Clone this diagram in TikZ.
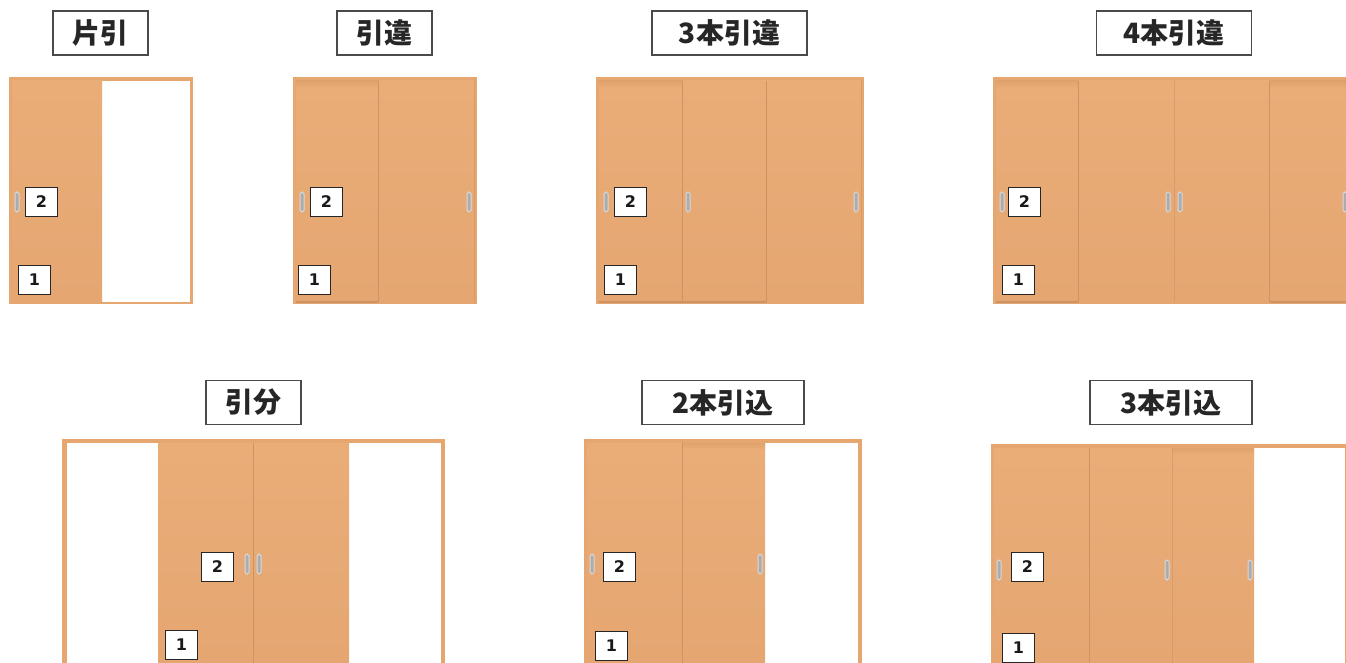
\documentclass[tikz,border=0pt]{standalone}
\usepackage{fontspec}
\newfontfamily\cjk{Noto Sans CJK JP}
\newfontfamily\digitfont{DejaVu Sans}
\definecolor{woodlight}{HTML}{EAAD78}
\definecolor{wooddark}{HTML}{E5A672}
\definecolor{woodshadow}{HTML}{DFA26D}
\definecolor{woodline}{HTML}{CC9464}
\definecolor{framewood}{HTML}{E6A670}
\definecolor{titleline}{HTML}{4A4A4A}
\tikzset{
  frame/.style = {fill = framewood, draw = none},
  opening/.style = {fill = white, draw = none},
  panel/.style = {top color = woodlight, bottom color = wooddark, draw = none},
  seam/.style = {woodline, line width = 1pt},
  sill/.style = {woodline, line width = 1.4pt},
  topshade/.style = {top color = woodshadow, bottom color = woodlight, draw = none},
  grip/.style = {fill = gray!65, draw = gray!30, line width = 1pt, rounded corners = 1.8pt},
  titlebox/.style = {draw = titleline, line width = 1.2pt, fill = white, minimum height = 44pt, inner sep = 0pt, text = black!85, font = \cjk\bfseries\fontsize{28}{28}\selectfont},
  numbox/.style = {draw = black!85, line width = 1.3pt, fill = white, minimum width = 32pt, minimum height = 29pt, inner sep = 0pt, text = black!90, font = \digitfont\bfseries\fontsize{16}{16}\selectfont}
}
\begin{document}
\begin{tikzpicture} [x = 1pt, y = -1pt]
\useasboundingbox (0,0) rectangle (1346,663);
% top row
\node [titlebox, minimum width = 95pt] (titleKata) at (100.5,33) {片引};
\node [titlebox, minimum width = 95pt] (titleHiki) at (384.5,33) {引違};
\node [titlebox, minimum width = 155pt] (titleSan) at (729.5,33) {3本引違};
\node [titlebox, minimum width = 155pt] (titleYon) at (1174,33) {4本引違};
% kata
\fill [frame] (9,77) rectangle (193,304);
\fill [opening] (102,81) rectangle (190,302);
\shade [panel] (12,81) rectangle (102,302);
% hikichigai
\fill [frame] (293,77) rectangle (477,304);
\shade [panel] (296,81) rectangle (474,301);
\shade [topshade] (296,81) rectangle (378,88);
\draw [sill] (296,302) -- (378,302);
\draw [seam] (378,81) -- (378,302);
\draw [seam, opacity = 0.5] (474,81) -- (474,302);
% 3 doors
\fill [frame] (596,77) rectangle (864,304);
\shade [panel] (599,81) rectangle (861,301);
\shade [topshade] (599,81) rectangle (682,88);
\draw [sill] (599,302) -- (766,302);
\draw [seam] (682,81) -- (682,302);
\draw [seam] (766,81) -- (766,302);
\draw [seam, opacity = 0.5] (861,81) -- (861,302);
% 4 doors
\fill [frame] (993,77) rectangle (1346,304);
\shade [panel] (996,81) rectangle (1346,301);
\shade [topshade] (996,81) rectangle (1078,88);
\shade [topshade] (1270,81) rectangle (1346,88);
\draw [sill] (996,302) -- (1078,302);
\draw [sill] (1270,302) -- (1346,302);
\draw [seam] (1078,81) -- (1078,302);
\draw [seam, opacity = 0.6] (1174,81) -- (1174,302);
\draw [seam] (1269,81) -- (1269,302);
% bottom row
\node [titlebox, minimum width = 95pt] (titleWake) at (253.5,402.5) {引分};
\node [titlebox, minimum width = 162pt] (titleNiKomi) at (723,402.5) {2本引込};
\node [titlebox, minimum width = 162pt] (titleSanKomi) at (1171,402.5) {3本引込};
% wake
\fill [frame] (62,439) rectangle (445,663);
\fill [opening] (67,443) rectangle (441,663);
\shade [panel] (158,443) rectangle (349,663);
\draw [seam] (253,443) -- (253,663);
% 2 pocket
\fill [frame] (584,439) rectangle (862,663);
\fill [opening] (765,443) rectangle (858,663);
\shade [panel] (587,443) rectangle (765,663);
\shade [topshade] (682,443) rectangle (765,449);
\draw [seam] (682,443) -- (682,663);
% 3 pocket
\fill [frame] (991,444) rectangle (1346,663);
\fill [opening] (1254,448) rectangle (1345,663);
\shade [panel] (994,448) rectangle (1254,663);
\shade [topshade] (1172,448) rectangle (1254,454);
\draw [seam] (1089,448) -- (1089,663);
\draw [seam, opacity = 0.6] (1172,448) -- (1172,663);
% grips
\foreach \s in {15,300,467,604,686,854,1000,1166,1178,1343} {
\draw [grip] (\s,192) rectangle (\s+4,212);
}
\foreach \s in {245,257,590,758} {
\draw [grip] (\s,554) rectangle (\s+4,574);
}
\foreach \s in {997,1165,1248} {
\draw [grip] (\s,560) rectangle (\s+4,580);
}
\node [numbox] (numKataTwo) at (41.5,202) {2};
\node [numbox] (numKataOne) at (34.5,280) {1};
\node [numbox] (numHikiTwo) at (326.5,202) {2};
\node [numbox] (numHikiOne) at (314.5,280) {1};
\node [numbox] (numSanTwo) at (630.5,202) {2};
\node [numbox] (numSanOne) at (620.5,280) {1};
\node [numbox] (numYonTwo) at (1024.5,202) {2};
\node [numbox] (numYonOne) at (1018.5,280) {1};
\node [numbox] (numWakeTwo) at (217.5,567) {2};
\node [numbox] (numWakeOne) at (181.5,645) {1};
\node [numbox] (numNiKomiTwo) at (619.5,567) {2};
\node [numbox] (numNiKomiOne) at (611.5,646) {1};
\node [numbox] (numSanKomiTwo) at (1027.5,567) {2};
\node [numbox] (numSanKomiOne) at (1018.5,648) {1};
\end{tikzpicture}
\end{document}
